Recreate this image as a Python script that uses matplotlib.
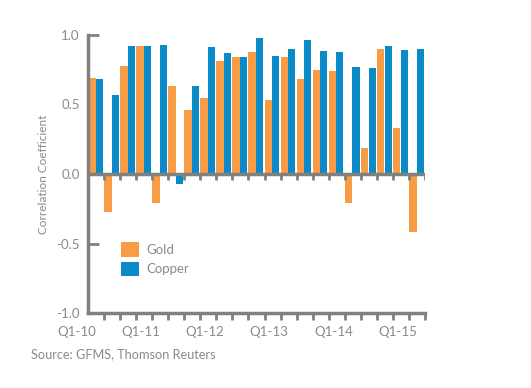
import numpy as np
import matplotlib
matplotlib.use('Agg')
import matplotlib.pyplot as plt

plt.rcParams['font.family'] = ['Lato', 'DejaVu Sans']

# quarterly correlation coefficients, Q1-10 .. Q1-15
quarters = ['Q1-10', 'Q2-10', 'Q3-10', 'Q4-10',
            'Q1-11', 'Q2-11', 'Q3-11', 'Q4-11',
            'Q1-12', 'Q2-12', 'Q3-12', 'Q4-12',
            'Q1-13', 'Q2-13', 'Q3-13', 'Q4-13',
            'Q1-14', 'Q2-14', 'Q3-14', 'Q4-14',
            'Q1-15']
gold = [0.69, -0.27, 0.78, 0.92, -0.21, 0.63, 0.46, 0.55, 0.81, 0.84, 0.88,
        0.53, 0.84, 0.68, 0.75, 0.74, -0.21, 0.19, 0.90, 0.33, -0.42]
copper = [0.68, 0.57, 0.92, 0.92, 0.93, -0.07, 0.63, 0.91, 0.87, 0.84, 0.98,
          0.85, 0.90, 0.96, 0.885, 0.88, 0.77, 0.76, 0.92, 0.89, 0.90]

orange = '#F89C45'
blue = '#0A8AC6'
grey = '#808080'
txt = '#8A8A8A'

fig = plt.figure(figsize=(5.31, 3.88), dpi=100)
ax = fig.add_axes([0.1657, 0.193, 0.6347, 0.717])

x = np.arange(len(quarters))
ax.bar(x - 0.5, gold, width=0.47, align='edge', color=orange, label='Gold', zorder=2)
ax.bar(x - 0.02, copper, width=0.44, align='edge', color=blue, label='Copper', zorder=2)

# zero line with little ticks hanging off it
ax.axhline(0, color=grey, lw=2.5, zorder=3)
bounds = np.arange(len(quarters) + 1) - 0.5
ax.vlines(bounds[1:], -0.04, 0, color=grey, lw=2, zorder=3)

ax.set_xlim(-0.5, len(quarters) - 0.5)
ax.set_ylim(-1.0, 1.0)

for s in ['top', 'right']:
    ax.spines[s].set_visible(False)
for s in ['left', 'bottom']:
    ax.spines[s].set_color(grey)
    ax.spines[s].set_linewidth(2.5)

ax.set_yticks([-1.0, -0.5, 0.0, 0.5, 1.0])
ax.set_yticklabels(['-1.0', '-0.5', '0.0', '0.5', '1.0'])
ax.tick_params(axis='y', direction='in', length=8, width=2, color=grey,
               labelcolor=txt, labelsize=9.5, pad=6)

ax.set_xticks(x[::4])
ax.set_xticklabels(quarters[::4], ha='right')
ax.set_xticks(bounds[1:], minor=True)
ax.tick_params(axis='x', which='major', length=0, labelcolor=txt, labelsize=9.5, pad=9)
ax.tick_params(axis='x', which='minor', direction='out', length=5, width=2, color=grey)

ax.set_ylabel('Correlation Coefficient', color=txt, fontsize=8.5, labelpad=5)

ax.legend(loc='upper left', bbox_to_anchor=(0.098, 0.255), frameon=False,
          borderpad=0, borderaxespad=0, handlelength=1.35, handleheight=1.35,
          handletextpad=0.6, labelspacing=0.35, fontsize=9.5, labelcolor=txt)

fig.text(0.058, 0.078, 'Source: GFMS, Thomson Reuters', color=txt, fontsize=9.2)

fig.savefig('out.png', dpi=100)
